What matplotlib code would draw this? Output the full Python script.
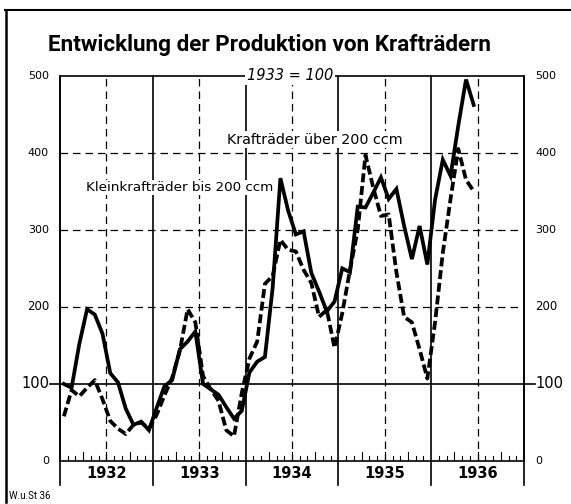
import matplotlib
matplotlib.use("Agg")
import matplotlib.pyplot as plt
from matplotlib.lines import Line2D
import numpy as np

years = [1932, 1933, 1934, 1935, 1936]

# Krafträder über 200 ccm (1933 = 100), monthly Jan 1932 - Jun 1936
ueber_200 = [100, 95, 152, 197, 190, 165, 114, 102, 68, 47, 51, 40,
             69, 97, 105, 145, 155, 168, 100, 93, 86, 70, 55, 65,
             115, 129, 135, 225, 367, 325, 294, 298, 244, 220, 194, 207,
             250, 245, 330, 329, 348, 368, 340, 353, 305, 262, 305, 255,
             339, 391, 370, 435, 495, 462]

# Kleinkrafträder bis 200 ccm (1933 = 100)
bis_200 = [58, 92, 84, 95, 105, 80, 52, 42, 35, 47, 50, 42,
           60, 85, 108, 143, 197, 180, 110, 93, 78, 40, 32, 88,
           133, 155, 230, 240, 287, 274, 272, 248, 231, 187, 196, 147,
           192, 248, 300, 397, 355, 318, 320, 245, 187, 180, 145, 107,
           180, 270, 340, 405, 365, 350]

left_labels = ["0", "100", "200", "300", "400", "500"]
right_labels = ["0", "100", "200", "300", "400", "500"]
tick_values = [0, 100, 200, 300, 400, 500]

title = "Entwicklung der Produktion von Krafträdern"
label_ueber = "Krafträder über 200 ccm"
label_bis = "Kleinkrafträder bis 200 ccm"
base_text = "1933 = 100"
source_text = "W.u.St 36"

W, H = 571, 504
fig = plt.figure(figsize=(W / 100, H / 100), dpi=100)
fig.patch.set_facecolor("white")

L, R, T, B = 60, 524, 75.7, 461
ax = fig.add_axes([L / W, 1 - B / H, (R - L) / W, (B - T) / H])
nmonths = 12 * len(years)
ax.set_xlim(0, nmonths)
ax.set_ylim(0, 500)
ax.set_xticks([])
ax.set_yticks([])
for s in ax.spines.values():
    s.set_linewidth(1.2)
    s.set_color("black")

px = 500 / (B - T)  # data units per pixel
mpx = nmonths / (R - L)  # months per pixel

# grid
for v in [200, 300, 400]:
    ax.plot([0, nmonths], [v, v], color="black", lw=0.9, dashes=(6, 4), zorder=1)
ax.plot([-10 * mpx, nmonths + 11 * mpx], [100, 100], color="black", lw=1.2,
        zorder=1, clip_on=False)
for k in range(len(years)):
    ax.plot([12 * k + 6, 12 * k + 6], [0, 500], color="black", lw=0.9, dashes=(6, 4), zorder=1)
for k in range(len(years) + 1):
    ax.plot([12 * k, 12 * k], [-24 * px, 500], color="black", lw=1.2, zorder=1, clip_on=False)

# monthly ticks
for m in range(nmonths):
    if m % 12 == 0:
        continue
    h = 9 if m % 3 == 0 else 5
    ax.plot([m, m], [0, h * px], color="black", lw=0.8, zorder=1)

# series
xs = np.arange(len(ueber_200)) + 0.5
ax.plot(xs, ueber_200, color="black", lw=2.7, solid_joinstyle="miter", zorder=4)
xs2 = np.arange(len(bis_200)) + 0.5
ax.plot(xs2, bis_200, color="black", lw=2.7, dashes=(2.4, 1.0), zorder=4)

# y labels
ytr = ax.get_yaxis_transform()
lsizes = {"0": 8, "100": 10.5, "200": 8.5, "300": 8, "400": 8, "500": 8}
for v, lab in zip(tick_values, left_labels):
    ax.text(-11 / (R - L), v, lab, transform=ytr, ha="right", va="center",
            fontsize=lsizes[lab], clip_on=False)
for v, lab in zip(tick_values, right_labels):
    ax.text(1 + 11 / (R - L), v, lab, transform=ytr, ha="left", va="center",
            fontsize=lsizes[lab], clip_on=False)

# year labels
for k, y in enumerate(years):
    ax.text(12 * k + 6, -13 * px, str(y), ha="center", va="center",
            fontsize=10.5, fontweight="bold", clip_on=False)

# annotations
ax.text((86 - L) * mpx, 355, label_bis, ha="left", va="center",
        fontsize=9.7, zorder=3,
        bbox=dict(facecolor="white", edgecolor="none", pad=1.0))
ax.text((227 - L) * mpx, 417, label_ueber, ha="left", va="center",
        fontsize=10.3, zorder=3,
        bbox=dict(facecolor="white", edgecolor="none", pad=1.0))
ax.text((290 - L) * mpx, 500, base_text, ha="center", va="center",
        fontsize=10.5, style="italic", zorder=6, clip_on=False,
        bbox=dict(facecolor="white", edgecolor="none", pad=1.5))

# title
fig.text(269 / W, 1 - 45 / H, title, ha="center", va="center", fontsize=16.2,
         fontweight="bold", family=["Roboto", "DejaVu Sans"])

# source
fig.text(9 / W, 1 - 496 / H, source_text, ha="left", va="center", fontsize=7,
         family=["Roboto", "DejaVu Sans"])

# outer frame
fig.add_artist(Line2D([5 / W, 1], [1 - 10 / H, 1 - 10 / H], color="black", lw=1.5,
                      transform=fig.transFigure))
fig.add_artist(Line2D([6 / W, 6 / W], [1 - 10 / H, 1 - 502 / H], color="black", lw=1.8,
                      transform=fig.transFigure))

fig.savefig("out.png", dpi=100)
